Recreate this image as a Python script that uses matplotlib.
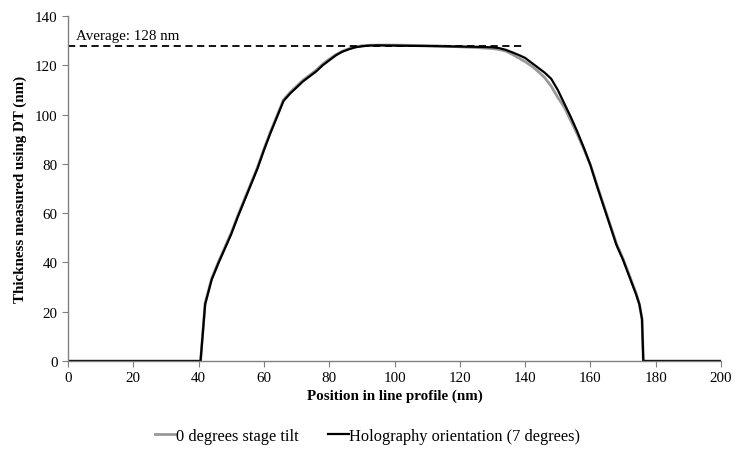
import matplotlib
matplotlib.use("Agg")
import matplotlib.pyplot as plt

plt.rcParams['font.family'] = ['Liberation Serif', 'DejaVu Serif']

# Black: Holography orientation (7 degrees)
holo_x = [0, 40.6, 42, 43, 44, 46, 48, 50, 52, 54, 56, 58, 60, 62, 64, 66, 68, 70, 72, 74,
          76, 78, 80, 82, 84, 86, 88, 90, 92, 95, 100, 105, 110, 115, 120, 125, 130, 132,
          134, 136, 138, 140, 142, 144, 146, 148, 150, 152, 154, 156, 158, 160, 162, 164,
          166, 168, 170, 172, 174, 175, 175.8, 176.2, 200]
holo_y = [0, 0, 23, 28, 33, 39.5, 45.5, 51.5, 58.5, 65, 71.5, 78, 85.5, 92.5, 99, 105.5,
          108.5, 111, 113.5, 115.5, 117.5, 120, 122, 124, 125.5, 126.5, 127.3, 127.7, 128,
          128.1, 128, 127.9, 127.8, 127.7, 127.6, 127.5, 127.3, 127, 126.3, 125.3, 124.2,
          123, 121, 119, 117, 114.5, 110, 104.5, 99, 93, 86.5, 79.5, 71, 63, 55, 47, 41,
          34, 27, 23, 17, 0, 0]

# Gray: 0 degrees stage tilt
tilt_x = [0, 40.6, 42, 43, 44, 46, 48, 50, 52, 54, 56, 58, 60, 62, 64, 66, 68, 70, 72, 74,
          76, 78, 80, 82, 84, 86, 88, 90, 92, 95, 100, 105, 110, 115, 120, 125, 130, 132,
          134, 136, 138, 140, 142, 144, 146, 148, 150, 152, 154, 156, 158, 160, 162, 164,
          166, 168, 170, 172, 174, 175, 175.8, 176.2, 200]
tilt_y = [0, 0, 23.5, 28.5, 33.5, 40, 46, 52, 59, 65.5, 72, 78.5, 86, 93, 99.5, 106,
          109, 111.5, 114, 116, 118, 120.5, 122.5, 124.3, 125.7, 126.7, 127.5, 127.9, 128.1,
          128.2, 128.2, 128.1, 128, 127.8, 127.5, 127.2, 126.8, 126.4, 125.8, 124.5, 123,
          121.5, 119.7, 117.5, 115, 111.5, 107, 103, 97.5, 92, 86, 79.5, 71.5, 63.5, 55.5,
          47.5, 41.5, 34.5, 27.5, 23, 17, 0, 0]

avg_x = [0, 139]
avg_y = [128, 128]

fig = plt.figure(figsize=(7.35, 4.56), dpi=100)
ax = fig.add_axes([0.0925, 0.206, 0.8885, 0.7567])

l1, = ax.plot(tilt_x, tilt_y, color='#999999', lw=2.0, label='0 degrees stage tilt')
l2, = ax.plot(holo_x, holo_y, color='black', lw=1.6, label='Holography orientation (7 degrees)')
ax.plot(avg_x, avg_y, color='black', lw=1.3, ls=(0, (4, 2.5)))
ax.text(2.5, 129.5, 'Average: 128 nm', fontsize=10.8, ha='left', va='bottom')

ax.set_xlim(0, 200)
ax.set_ylim(0, 140)
ax.set_xticks(range(0, 201, 20))
ax.set_yticks(range(0, 141, 20))
for s in ['top', 'right']:
    ax.spines[s].set_visible(False)
for s in ['left', 'bottom']:
    ax.spines[s].set_color('#808080')
    ax.spines[s].set_linewidth(1.0)
ax.tick_params(axis='both', direction='out', length=4, color='#808080', labelsize=10.8)

ax.set_xlabel('Position in line profile (nm)', fontsize=10.8, fontweight='bold', labelpad=3)
ax.set_ylabel('Thickness measured using DT (nm)', fontsize=10.8, fontweight='bold', labelpad=6)

fig.legend(handles=[l1, l2], loc='center', bbox_to_anchor=(0.5, 0.042), ncol=2,
           frameon=False, fontsize=11.8, handlelength=1.3, handletextpad=0.0,
           columnspacing=1.75)

fig.savefig('out.png', dpi=100)
